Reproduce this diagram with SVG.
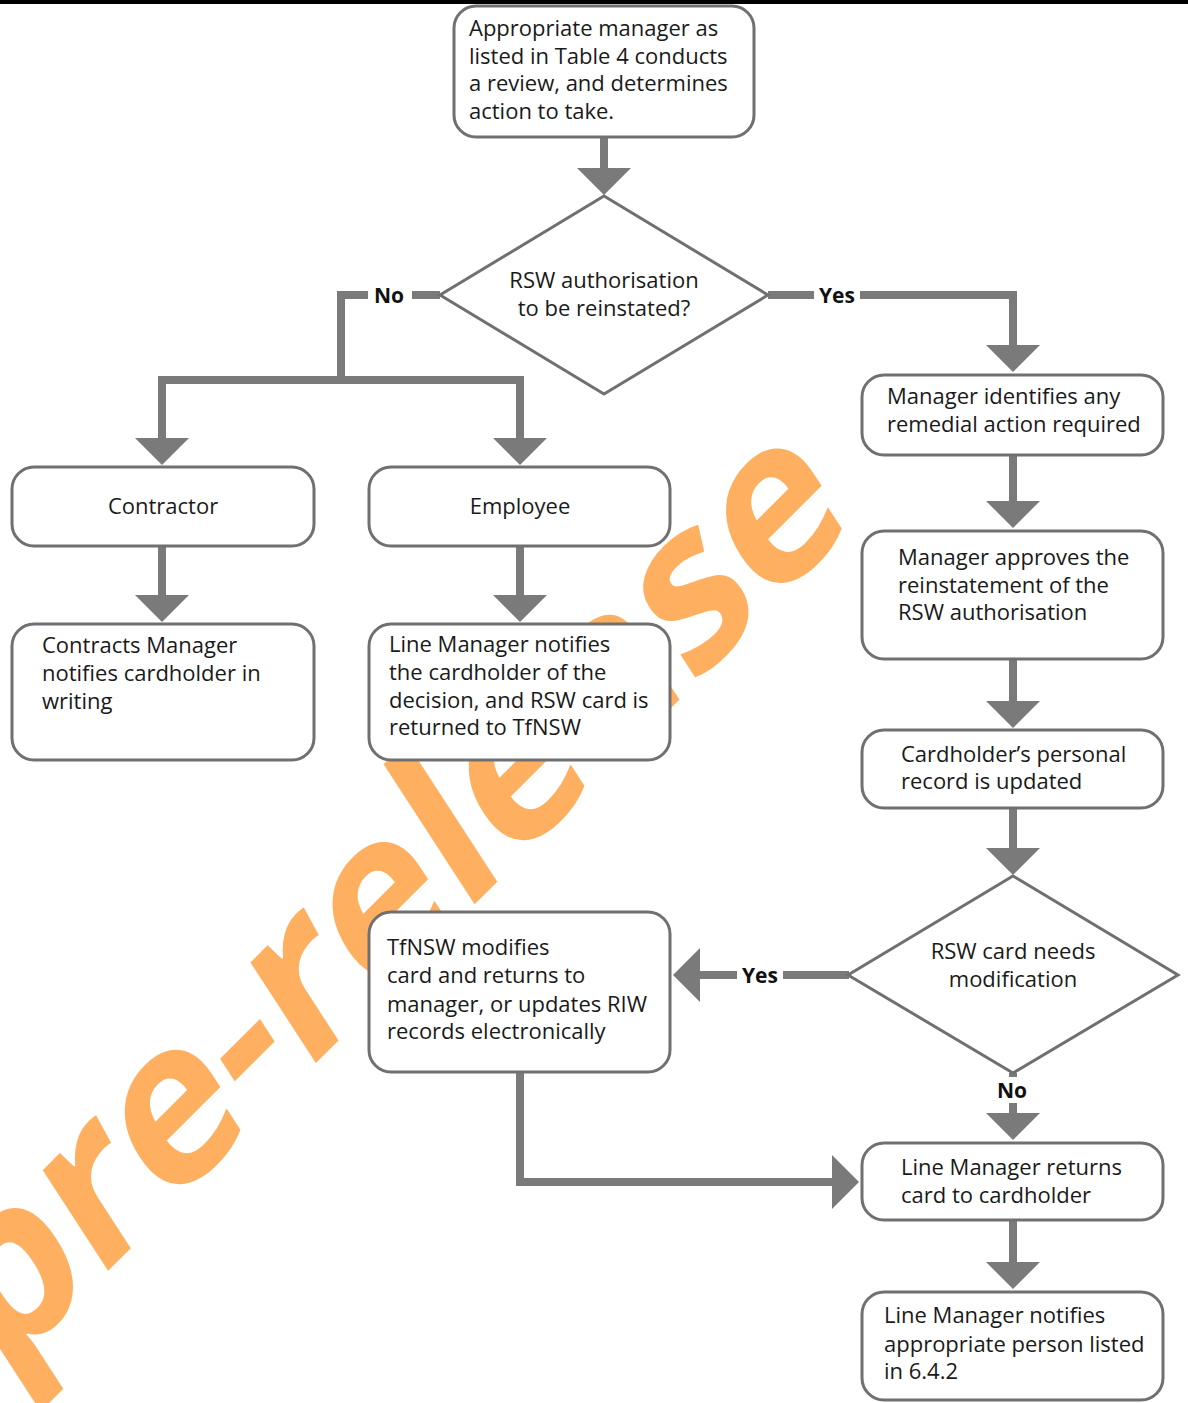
<svg xmlns="http://www.w3.org/2000/svg" width="1188" height="1403" viewBox="0 0 1188 1403">
  <style>
    .box { fill: #ffffff; stroke: #707070; stroke-width: 3; }
    .t { font-family: "Open Sans", "Liberation Sans", sans-serif; font-size: 22px; fill: #1a1a1a; }
    .c { text-anchor: middle; }
    .lbl { font-family: "Open Sans", "Liberation Sans", sans-serif; font-size: 21px; font-weight: bold; fill: #111; }
    .con { fill: none; stroke: #7a7a7a; stroke-width: 8; }
    .wm { font-family: "Open Sans", "Liberation Sans", sans-serif; font-size: 215px; font-weight: bold; fill: #FFAF60; }
  </style>
  <defs>
    <marker id="ah" markerUnits="userSpaceOnUse" markerWidth="28" markerHeight="56" refX="1" refY="27" orient="auto" viewBox="0 0 28 54">
      <path d="M0,0 L27,27 L0,54 z" fill="#7a7a7a"/>
    </marker>
  </defs>
  <rect x="0" y="0" width="1188" height="4" fill="#000"/>

  <g id="watermark">
    <text class="wm" transform="translate(0,1379) rotate(-45) skewX(-12)">pre-release</text>
  </g>

  <g id="connectors">
    <path class="con" d="M604,137 V169" marker-end="url(#ah)"/>
    <path class="con" d="M440,295 H341 V380"/>
    <path class="con" d="M158,380 H524"/>
    <path class="con" d="M162,380 V439" marker-end="url(#ah)"/>
    <path class="con" d="M520,380 V439" marker-end="url(#ah)"/>
    <path class="con" d="M768,295 H1013 V346" marker-end="url(#ah)"/>
    <path class="con" d="M162,546 V596" marker-end="url(#ah)"/>
    <path class="con" d="M520,546 V596" marker-end="url(#ah)"/>
    <path class="con" d="M1013,455 V502" marker-end="url(#ah)"/>
    <path class="con" d="M1013,659 V702" marker-end="url(#ah)"/>
    <path class="con" d="M1013,808 V849" marker-end="url(#ah)"/>
    <path class="con" d="M849,975 H699" marker-end="url(#ah)"/>
    <path class="con" d="M1013,1073 V1114" marker-end="url(#ah)"/>
    <path class="con" d="M520,1072 V1182 H833" marker-end="url(#ah)"/>
    <path class="con" d="M1013,1220 V1263" marker-end="url(#ah)"/>
    <rect x="368" y="282" width="44" height="26" fill="#fff"/>
    <text class="lbl c" x="389" y="303">No</text>
    <rect x="814" y="282" width="46" height="26" fill="#fff"/>
    <text class="lbl c" x="837" y="303">Yes</text>
    <rect x="737" y="962" width="46" height="26" fill="#fff"/>
    <text class="lbl c" x="760" y="983">Yes</text>
    <rect x="991" y="1077" width="44" height="26" fill="#fff"/>
    <text class="lbl c" x="1012" y="1098">No</text>
  </g>

  <g id="n_review">
    <rect class="box" x="454" y="6" width="300" height="131" rx="22"/>
    <text class="t" x="469" y="36">Appropriate manager as</text>
    <text class="t" x="469" y="63.5">listed in Table 4 conducts</text>
    <text class="t" x="469" y="91">a review, and determines</text>
    <text class="t" x="469" y="118.5">action to take.</text>
  </g>

  <g id="d_reinstate">
    <polygon class="box" points="604,196 768,295 604,394 440,295"/>
    <text class="t c" x="604" y="288">RSW authorisation</text>
    <text class="t c" x="604" y="316">to be reinstated?</text>
  </g>

  <g id="n_contractor">
    <rect class="box" x="12" y="467" width="302" height="79" rx="22"/>
    <text class="t c" x="163" y="514">Contractor</text>
  </g>

  <g id="n_employee">
    <rect class="box" x="369" y="467" width="301" height="79" rx="22"/>
    <text class="t c" x="520" y="514">Employee</text>
  </g>

  <g id="n_contracts_mgr">
    <rect class="box" x="12" y="624" width="302" height="136" rx="22"/>
    <text class="t" x="42" y="653">Contracts Manager</text>
    <text class="t" x="42" y="681">notifies cardholder in</text>
    <text class="t" x="42" y="708.5">writing</text>
  </g>

  <g id="n_line_mgr_notify">
    <rect class="box" x="369" y="624" width="301" height="136" rx="22"/>
    <text class="t" x="389" y="652">Line Manager notifies</text>
    <text class="t" x="389" y="680">the cardholder of the</text>
    <text class="t" x="389" y="707.5">decision, and RSW card is</text>
    <text class="t" x="389" y="735">returned to TfNSW</text>
  </g>

  <g id="n_remedial">
    <rect class="box" x="862" y="375" width="301" height="80" rx="22"/>
    <text class="t" x="887" y="404">Manager identifies any</text>
    <text class="t" x="887" y="432">remedial action required</text>
  </g>

  <g id="n_approves">
    <rect class="box" x="862" y="531" width="301" height="128" rx="22"/>
    <text class="t" x="898" y="565">Manager approves the</text>
    <text class="t" x="898" y="592.5">reinstatement of the</text>
    <text class="t" x="898" y="620">RSW authorisation</text>
  </g>

  <g id="n_record">
    <rect class="box" x="862" y="730" width="301" height="78" rx="22"/>
    <text class="t" x="901" y="762">Cardholder’s personal</text>
    <text class="t" x="901" y="789">record is updated</text>
  </g>

  <g id="d_modification">
    <polygon class="box" points="1013,876 1178,975 1013,1073 848,975"/>
    <text class="t c" x="1013" y="959">RSW card needs</text>
    <text class="t c" x="1013" y="987">modification</text>
  </g>

  <g id="n_tfnsw">
    <rect class="box" x="369" y="912" width="301" height="160" rx="22"/>
    <text class="t" x="387" y="955">TfNSW modifies</text>
    <text class="t" x="387" y="983">card and returns to</text>
    <text class="t" x="387" y="1011.5">manager, or updates RIW</text>
    <text class="t" x="387" y="1039">records electronically</text>
  </g>

  <g id="n_returns">
    <rect class="box" x="862" y="1143" width="301" height="77" rx="22"/>
    <text class="t" x="901" y="1175">Line Manager returns</text>
    <text class="t" x="901" y="1203">card to cardholder</text>
  </g>

  <g id="n_notify_person">
    <rect class="box" x="862" y="1292" width="301" height="108" rx="22"/>
    <text class="t" x="884" y="1323">Line Manager notifies</text>
    <text class="t" x="884" y="1351.5">appropriate person listed</text>
    <text class="t" x="884" y="1379">in 6.4.2</text>
  </g>
</svg>
